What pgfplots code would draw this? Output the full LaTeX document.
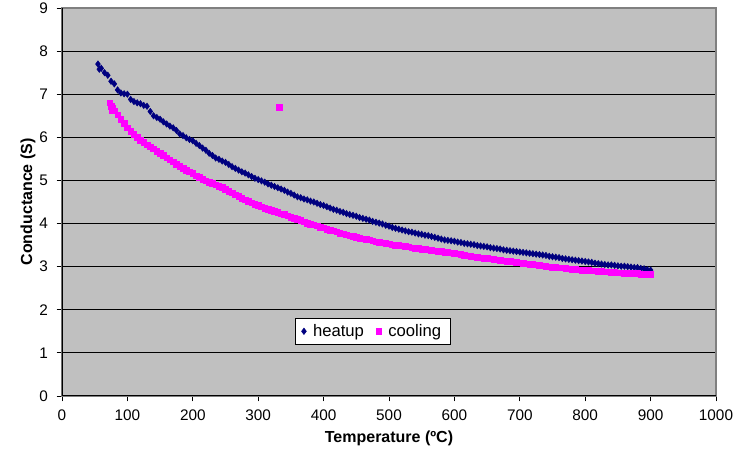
\documentclass[border=0pt]{standalone}
\usepackage{fontspec}
\setmainfont{Liberation Sans}
\usepackage{pgfplots}
\pgfplotsset{compat=1.18}
\definecolor{plotgray}{HTML}{C0C0C0}
\definecolor{heatcol}{HTML}{000080}
\definecolor{coolcol}{HTML}{FF00FF}
\begin{document}
\begin{tikzpicture}
\begin{axis}[
  name=ax,
  scale only axis,
  width=490.5pt, height=291pt,
  xmin=0, xmax=1000, ymin=0, ymax=9,
  xtick={0,100,...,1000}, ytick={0,1,...,9},
  axis background/.style={fill=plotgray},
  ymajorgrids,
  major grid style={black, line width=0.6pt},
  axis line style={draw=gray, line width=0.8pt},
  tick align=outside, tick pos=left,
  major tick length=4pt,
  tick style={black, line width=0.6pt},
  /pgf/number format/assume math mode=true,
  /pgf/number format/1000 sep={},
  ticklabel style={font=\fontsize{11.5}{13}\selectfont},
  xticklabel style={yshift=-3pt},
  yticklabel style={xshift=-3pt},
  xlabel={\bfseries Temperature (ºC)},
  ylabel={\bfseries Conductance (S)},
  label style={font=\fontsize{12}{14}\selectfont},
  xlabel style={at={([yshift=-31.5pt]axis description cs:0.5,0)}, anchor=center},
  ylabel style={at={([xshift=-25.5pt]axis description cs:0,0.5)}, anchor=center},
  legend style={at={(0.475,0.1667)}, anchor=center, legend columns=2, draw=black, fill=white,
    font=\fontsize{12.5}{14}\selectfont, inner xsep=5pt, inner ysep=2.5pt,
    /tikz/every odd column/.append style={column sep=3pt},
    /tikz/every even column/.append style={column sep=7pt}},
]
\addplot[only marks, mark=diamond*, mark size=2.4pt, color=heatcol, mark options={fill=heatcol, draw=heatcol}] table {
x y
55 7.70
57 7.58
60 7.60
65 7.50
70 7.44
75 7.30
80 7.24
85 7.10
90 7.03
95 7.01
100 7.00
105 6.88
110 6.83
115 6.80
120 6.78
125 6.74
130 6.72
135 6.60
140 6.50
145 6.46
150 6.42
155 6.36
160 6.31
165 6.26
170 6.22
175 6.16
180 6.08
185 6.04
190 5.99
195 5.95
200 5.92
205 5.86
210 5.81
215 5.75
220 5.70
225 5.63
230 5.58
235 5.52
240 5.49
245 5.45
250 5.42
255 5.37
260 5.32
265 5.28
270 5.24
275 5.20
280 5.17
285 5.13
290 5.09
295 5.05
300 5.02
305 4.99
310 4.96
315 4.92
320 4.89
325 4.86
330 4.83
335 4.80
340 4.77
345 4.73
350 4.70
355 4.66
360 4.62
365 4.60
370 4.57
375 4.55
380 4.52
385 4.50
390 4.47
395 4.44
400 4.42
405 4.39
410 4.36
415 4.33
420 4.31
425 4.28
430 4.26
435 4.23
440 4.21
445 4.19
450 4.17
455 4.14
460 4.12
465 4.10
470 4.08
475 4.05
480 4.03
485 4.01
490 3.99
495 3.96
500 3.94
505 3.91
510 3.89
515 3.87
520 3.85
525 3.83
530 3.81
535 3.80
540 3.78
545 3.76
550 3.75
555 3.73
560 3.72
565 3.70
570 3.68
575 3.66
580 3.64
585 3.62
590 3.61
595 3.60
600 3.59
605 3.57
610 3.56
615 3.54
620 3.53
625 3.52
630 3.51
635 3.49
640 3.48
645 3.47
650 3.46
655 3.44
660 3.43
665 3.42
670 3.41
675 3.39
680 3.38
685 3.37
690 3.36
695 3.35
700 3.34
705 3.33
710 3.32
715 3.31
720 3.30
725 3.29
730 3.28
735 3.27
740 3.26
745 3.24
750 3.23
755 3.22
760 3.21
765 3.19
770 3.18
775 3.17
780 3.16
785 3.15
790 3.14
795 3.13
800 3.12
805 3.11
810 3.10
815 3.08
820 3.07
825 3.06
830 3.05
835 3.04
840 3.04
845 3.03
850 3.02
855 3.01
860 3.01
865 3.00
870 2.99
875 2.98
880 2.98
885 2.96
890 2.95
895 2.93
900 2.92
};
\addlegendentry{heatup}
\addplot[only marks, mark=square*, mark size=2.1pt, color=coolcol, mark options={fill=coolcol, draw=coolcol}] table {
x y
73 6.80
75 6.72
76 6.62
77 6.68
80 6.62
85 6.52
90 6.42
95 6.32
100 6.22
105 6.14
110 6.07
115 6.00
120 5.93
125 5.88
130 5.83
135 5.78
140 5.73
145 5.68
150 5.63
155 5.58
160 5.53
165 5.48
170 5.43
175 5.38
180 5.33
185 5.28
190 5.24
195 5.20
200 5.16
205 5.11
210 5.07
215 5.03
220 4.99
225 4.96
230 4.93
235 4.90
240 4.87
245 4.84
250 4.80
255 4.75
260 4.71
265 4.67
270 4.63
275 4.59
280 4.55
285 4.51
290 4.48
295 4.45
300 4.42
305 4.39
310 4.36
315 4.33
320 4.31
325 4.28
330 4.26
335 4.23
340 4.21
345 4.18
350 4.15
355 4.12
360 4.10
365 4.07
370 4.04
375 4.01
380 3.99
385 3.97
390 3.95
395 3.92
400 3.90
405 3.87
410 3.85
415 3.83
420 3.81
425 3.78
430 3.76
435 3.74
440 3.72
445 3.70
450 3.68
455 3.66
460 3.65
465 3.63
470 3.62
475 3.60
480 3.58
485 3.56
490 3.55
495 3.54
500 3.53
505 3.51
510 3.50
515 3.49
520 3.48
525 3.47
530 3.46
535 3.44
540 3.43
545 3.42
550 3.41
555 3.40
560 3.39
565 3.38
570 3.37
575 3.36
580 3.35
585 3.34
590 3.33
595 3.32
600 3.31
605 3.30
610 3.29
615 3.27
620 3.25
625 3.24
630 3.23
635 3.22
640 3.21
645 3.20
650 3.19
655 3.18
660 3.17
665 3.16
670 3.15
675 3.14
680 3.13
685 3.12
690 3.11
695 3.10
700 3.09
705 3.08
710 3.07
715 3.06
720 3.05
725 3.04
730 3.03
735 3.02
740 3.01
745 3.00
750 2.99
755 2.98
760 2.97
765 2.97
770 2.96
775 2.95
780 2.94
785 2.94
790 2.93
795 2.92
800 2.91
805 2.91
810 2.90
815 2.90
820 2.89
825 2.89
830 2.88
835 2.88
840 2.87
845 2.87
850 2.86
855 2.86
860 2.85
865 2.85
870 2.85
875 2.84
880 2.84
885 2.83
890 2.83
895 2.82
900 2.82
332 6.70
};
\addlegendentry{cooling}
\draw[black, line width=0.8pt] (rel axis cs:0,1) -- (rel axis cs:0,0) -- (rel axis cs:1,0);
\end{axis}
\pgfresetboundingbox
\path[use as bounding box] ([shift={(-46.5pt,-45pt)}]ax.south west) rectangle ([shift={(21pt,6pt)}]ax.north east);
\end{tikzpicture}
\end{document}
